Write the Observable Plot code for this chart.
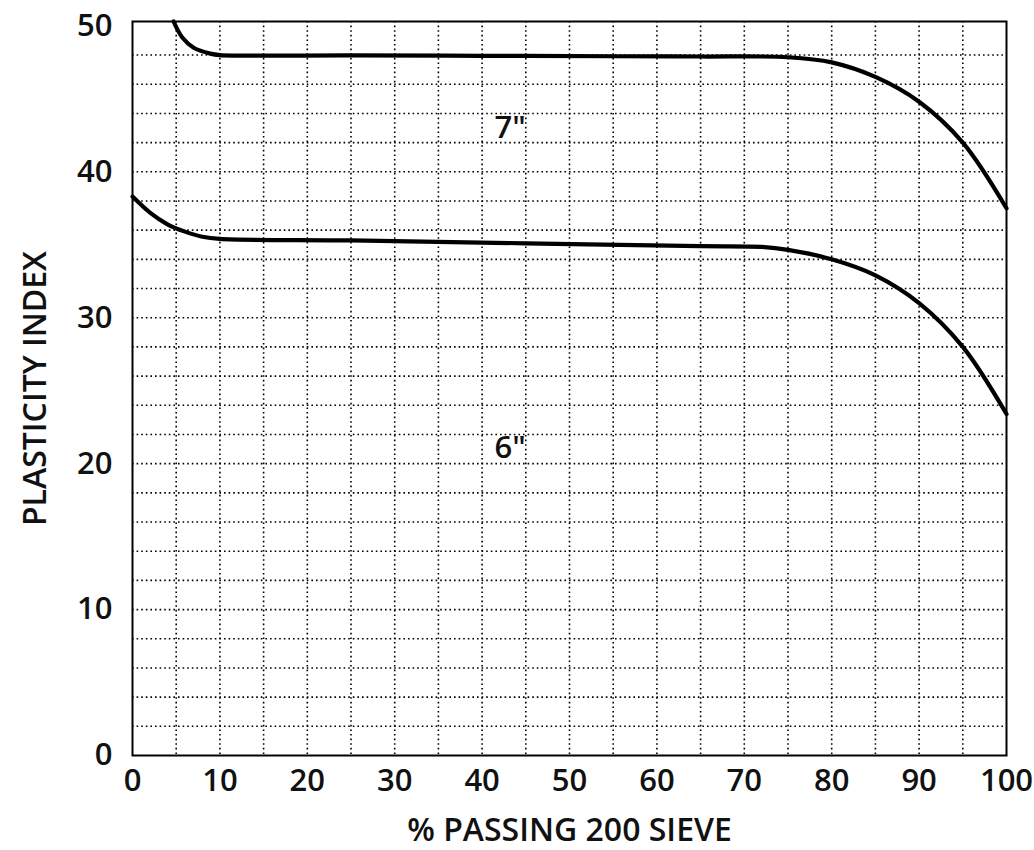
<!DOCTYPE html>
<html>
<head>
<meta charset="utf-8">
<script src="https://cdn.jsdelivr.net/npm/d3@7"></script>
<script src="https://cdn.jsdelivr.net/npm/@observablehq/plot@0.6"></script>
<style>
  html, body { margin: 0; padding: 0; background: #fff; }
  #chart svg { display: block; }
</style>
</head>
<body>
<div id="chart"></div>
<script>
// 7" curve (% passing 200 sieve vs plasticity index)
const x7 = [4.7, 5.7, 7.0, 8.9, 10, 25, 40, 55, 65, 75, 80, 85, 90, 95, 100];
const y7 = [50.3, 49.2, 48.5, 48.1, 48.0, 47.98, 47.95, 47.92, 47.9, 47.85, 47.5, 46.5, 44.8, 42.0, 37.5];
// 6" curve
const x6 = [0, 2, 4, 6, 8, 10, 25, 45, 65, 72, 75, 80, 85, 90, 95, 100];
const y6 = [38.3, 37.2, 36.4, 35.9, 35.55, 35.4, 35.3, 35.1, 34.9, 34.85, 34.65, 34.0, 32.9, 31.0, 28.0, 23.4];

const xTicks = [0, 10, 20, 30, 40, 50, 60, 70, 80, 90, 100];
const yTicks = [0, 10, 20, 30, 40, 50];
const xGrid = [5, 10, 15, 20, 25, 30, 35, 40, 45, 50, 55, 60, 65, 70, 75, 80, 85, 90, 95];
const yGrid = [2, 4, 6, 8, 10, 12, 14, 16, 18, 20, 22, 24, 26, 28, 30, 32, 34, 36, 38, 40, 42, 44, 46, 48];

const curveLabels = [
  {x: 43.2, y: 43.0, text: '7"'},
  {x: 43.2, y: 21.1, text: '6"'}
];
const xTitle = "% PASSING 200 SIEVE";
const yTitle = "PLASTICITY INDEX";

const line7 = x7.map((x, i) => ({x, y: y7[i]}));
const line6 = x6.map((x, i) => ({x, y: y6[i]}));

const gridStyle = {stroke: "#000", strokeWidth: 1.6, strokeDasharray: "1.6,3", strokeOpacity: 1};

const chart = Plot.plot({
  width: 1034,
  height: 850,
  marginLeft: 132,
  marginRight: 28,
  marginTop: 21,
  marginBottom: 95,
  style: {fontFamily: "'Open Sans', 'Noto Sans', sans-serif", fontSize: "31px", fontWeight: 600, color: "#111", background: "#fff"},
  x: {domain: [0, 100], ticks: xTicks, tickSize: 0, tickPadding: 13, label: null},
  y: {domain: [0, 50.3], ticks: yTicks, tickSize: 0, tickPadding: 20, label: null},
  marks: [
    Plot.ruleX(xGrid, gridStyle),
    Plot.ruleY(yGrid, gridStyle),
    Plot.frame({stroke: "#000", strokeWidth: 2}),
    Plot.line(line7, {x: "x", y: "y", curve: "catmull-rom", stroke: "#000", strokeWidth: 4.2}),
    Plot.line(line6, {x: "x", y: "y", curve: "catmull-rom", stroke: "#000", strokeWidth: 4.2}),
    Plot.text(curveLabels, {x: "x", y: "y", text: "text", fontSize: 31, fontWeight: 600, fill: "#111"}),
    Plot.text([xTitle], {text: d => d, frameAnchor: "bottom", lineAnchor: "middle", textAnchor: "middle", dy: 75, fontSize: 32, fontWeight: 600, fill: "#111"}),
    Plot.text([yTitle], {text: d => d, frameAnchor: "left", lineAnchor: "middle", textAnchor: "middle", dx: -97, rotate: -90, fontSize: 32, fontWeight: 600, fill: "#111"})
  ]
});
document.getElementById("chart").appendChild(chart);
</script>
</body>
</html>
